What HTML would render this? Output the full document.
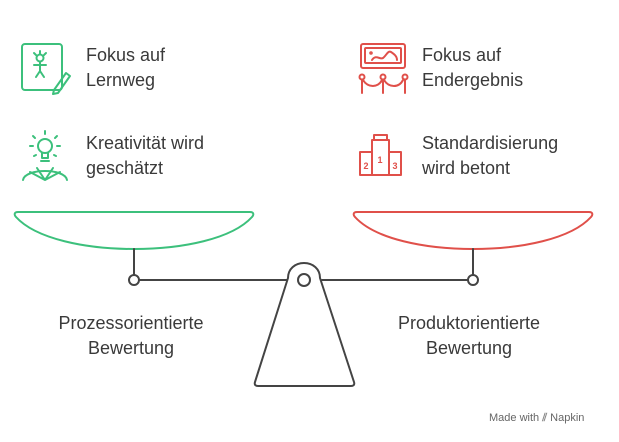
<!DOCTYPE html>
<html><head><meta charset="utf-8"><style>
body{margin:0;width:619px;height:442px;background:#fff;overflow:hidden;font-family:"Liberation Sans",sans-serif;}
.t{position:absolute;font-size:18px;line-height:25px;color:#3a3a3a;}
</style></head><body>
<svg width="619" height="442" style="position:absolute;left:0;top:0" fill="none" stroke-linecap="round" stroke-linejoin="round">
<!-- green icon 1 -->
<g stroke="#3cc07c" stroke-width="2">
<rect x="22" y="44" width="40" height="46" rx="3"/>
<circle cx="40" cy="58" r="3.5"/>
<path d="M40 54v-3M36 55l-2-2M44 55l2-2M40 62v9M34 65h12M40 71l-4 6M40 71l4 6"/>
<path d="M54 90l12-17 4 3-12 17-5 1z"/>
</g>
<!-- bulb -->
<g stroke="#3cc07c" stroke-width="2">
<circle cx="45" cy="146" r="7"/>
<path d="M42 153v5h6v-5M41 161h8M45 131v3M33 136l2 2M57 136l-2 2M30 146h3M60 146h-3M34 156l2-1M56 156l-2-1"/>
<path d="M23 180c2-12 42-12 44 0M30 172l15 8 15-8M37 168l8 12 8-12"/>
</g>
<!-- red gallery -->
<g stroke="#e0504a" stroke-width="2">
<rect x="361" y="44" width="44" height="24" rx="2"/>
<rect x="365" y="48" width="36" height="15" rx="1"/>
<path d="M372 60c4-6 8 0 11-2s5-8 8-6 6 4 6 8"/>
<circle cx="371" cy="53" r="0.8"/>
<circle cx="362" cy="77" r="2.5"/><circle cx="383" cy="77" r="2.5"/><circle cx="405" cy="77" r="2.5"/>
<path d="M362 80v13M383 80v13M405 80v13M363 80c5 8 15 8 19 0M384 80c5 8 15 8 19 0"/>
</g>
<!-- podium -->
<g stroke="#e0504a" stroke-width="2">
<rect x="372" y="140" width="17" height="35"/>
<path d="M374 140v-5h13v5"/>
<rect x="360" y="152" width="12" height="23"/>
<rect x="389" y="152" width="12" height="23"/>
</g>
<text x="380" y="163" font-size="9" fill="#e0504a" font-family="Liberation Sans" font-weight="bold" text-anchor="middle">1</text>
<text x="366" y="169" font-size="9" fill="#e0504a" font-family="Liberation Sans" font-weight="bold" text-anchor="middle">2</text>
<text x="395" y="169" font-size="9" fill="#e0504a" font-family="Liberation Sans" font-weight="bold" text-anchor="middle">3</text>
<!-- scale -->
<path d="M18 212H250c4 0 4 3 2 5-20 22-70 32-118 32S36 239 16 217c-2-2-2-5 2-5z" stroke="#3cc07c" stroke-width="2"/>
<path d="M357 212H589c4 0 4 3 2 5-20 22-70 32-118 32S375 239 355 217c-2-2-2-5 2-5z" stroke="#e0504a" stroke-width="2"/>
<g stroke="#444" stroke-width="2">
<path d="M134 249v26M473 249v26"/>
<path d="M139 280H287M322 280H468"/>
<circle cx="134" cy="280" r="5" fill="#fff"/>
<circle cx="473" cy="280" r="5" fill="#fff"/>
<path d="M288 278c0-9 7-15 16-15s16 6 16 15l34 104c1 3-1 4-3 4H258c-2 0-4-1-3-4z" fill="#fff"/>
<circle cx="304" cy="280" r="6"/>
</g>
</svg>
<div class="t" style="left:86px;top:43px">Fokus auf<br>Lernweg</div>
<div class="t" style="left:86px;top:131px">Kreativität wird<br>geschätzt</div>
<div class="t" style="left:422px;top:43px">Fokus auf<br>Endergebnis</div>
<div class="t" style="left:422px;top:131px">Standardisierung<br>wird betont</div>
<div class="t" style="left:0;width:262px;text-align:center;top:311px">Prozessorientierte<br>Bewertung</div>
<div class="t" style="left:338px;width:262px;text-align:center;top:311px">Produktorientierte<br>Bewertung</div>
<div style="position:absolute;left:489px;top:412px;font-size:11px;color:#666">Made with <span style="font-weight:bold;color:#888">⫽</span> Napkin</div>
</body></html>
